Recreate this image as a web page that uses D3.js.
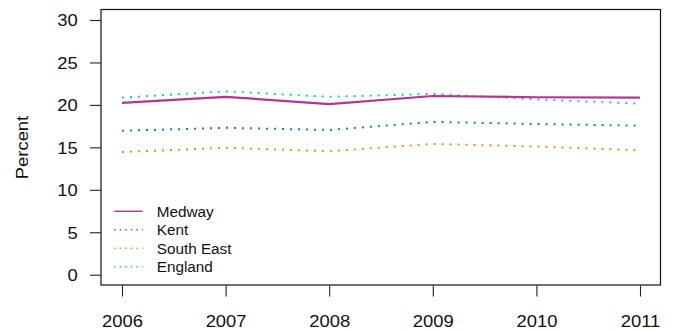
<!DOCTYPE html>
<html>
<head>
<meta charset="utf-8">
<script src="https://cdn.jsdelivr.net/npm/d3@7"></script>
<style>
  html, body { margin: 0; padding: 0; background: #fff; }
  svg { display: block; }
  text { font-family: "Liberation Sans", Helvetica, Arial, sans-serif; fill: #111; }
</style>
</head>
<body>
<svg id="chart" width="673" height="331"></svg>
<script>
const years = [2006, 2007, 2008, 2009, 2010, 2011];
const medway = [20.25, 20.95, 20.1, 21.05, 20.9, 20.85];
const kent = [16.95, 17.3, 17.05, 18.0, 17.75, 17.55];
const southEast = [14.45, 14.95, 14.55, 15.4, 15.1, 14.65];
const england = [20.85, 21.6, 20.95, 21.3, 20.65, 20.15];
const seriesNames = ["Medway", "Kent", "South East", "England"];
const seriesColors = ["#b0368f", "#1c76c0", "#f58a22", "#22b8ee"];
const yTicks = [0, 5, 10, 15, 20, 25, 30];
const yLabel = "Percent";

const seriesValues = [medway, kent, southEast, england];
const series = seriesNames.map((name, i) => ({
  name, color: seriesColors[i], dotted: i > 0,
  values: years.map((yr, j) => ({ yr, v: seriesValues[i][j] }))
}));

const svg = d3.select("#chart");
const box = { left: 101, right: 660.5, top: 9.5, bottom: 285 };

const x = d3.scaleLinear().domain([2006, 2011]).range([122, 640]);
const y = d3.scaleLinear().domain([0, 30]).range([274.7, 20]);

// box
svg.append("rect")
  .attr("x", box.left).attr("y", box.top)
  .attr("width", box.right - box.left).attr("height", box.bottom - box.top)
  .attr("fill", "none").attr("stroke", "#111").attr("stroke-width", 1.2);

const stretch = 1.13;

// y axis
const gy = svg.append("g").attr("transform", `translate(${box.left},0)`)
  .call(d3.axisLeft(y).tickValues(yTicks).tickSize(11).tickFormat(d3.format("d")));
gy.select(".domain").remove();
gy.selectAll(".tick line").attr("stroke", "#222").attr("stroke-width", 1.1);
gy.selectAll(".tick text")
  .attr("x", null).attr("dy", null)
  .attr("text-anchor", "end")
  .attr("transform", `translate(-23.3,5.9) scale(${stretch},1)`)
  .style("font-size", "16.3px").attr("fill", "#111");

// x axis
const gx = svg.append("g").attr("transform", `translate(0,${box.bottom + 0.5})`)
  .call(d3.axisBottom(x).tickValues(years).tickSize(11).tickFormat(d3.format("d")));
gx.select(".domain").remove();
gx.selectAll(".tick line").attr("stroke", "#222").attr("stroke-width", 1.1);
gx.selectAll(".tick text")
  .attr("y", null).attr("dy", null)
  .attr("text-anchor", "middle")
  .attr("transform", `translate(0,41.2) scale(${stretch},1)`)
  .style("font-size", "16.3px").attr("fill", "#111");

// y label
svg.append("text")
  .attr("transform", `translate(28,147.5) rotate(-90) scale(${stretch},1)`)
  .attr("text-anchor", "middle")
  .style("font-size", "16.3px")
  .text(yLabel);

// lines
const line = d3.line().x(d => x(d.yr)).y(d => y(d.v));
const order = [3, 1, 2, 0];
order.forEach(i => {
  const s = series[i];
  svg.append("path")
    .datum(s.values)
    .attr("d", line)
    .attr("fill", "none")
    .attr("stroke", s.color)
    .attr("stroke-width", s.dotted ? 2 : 2.2)
    .attr("stroke-dasharray", s.dotted ? "2,6" : null)
    .attr("stroke-linejoin", "round");
});

// legend
const legY0 = 211.3, legStep = 18.45;
const leg = svg.append("g");
series.forEach((s, i) => {
  const yy = legY0 + i * legStep;
  leg.append("line")
    .attr("x1", 114.3).attr("x2", 142.7)
    .attr("y1", yy).attr("y2", yy)
    .attr("stroke", s.color)
    .attr("stroke-width", s.dotted ? 1.5 : 1.4)
    .attr("stroke-dasharray", s.dotted ? "1.4,4.1" : null);
  leg.append("text")
    .attr("x", 156.7).attr("y", yy + 5.3)
    .style("font-size", "15.3px")
    .text(s.name);
});
</script>
</body>
</html>
